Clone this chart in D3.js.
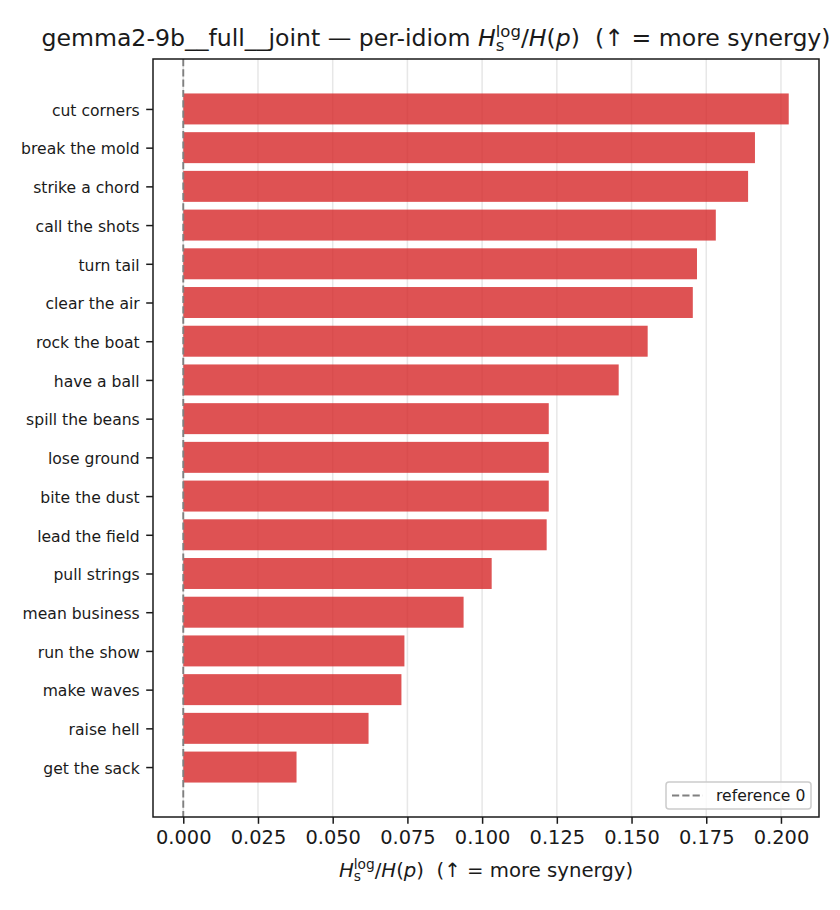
<!DOCTYPE html>
<html>
    <head>
        <title>Per-idiom synergy</title>
        <script src="https://d3js.org/d3.v7.min.js"></script>
        <style>
            body { margin: 0; background: white; }
            svg text { font-family: "DejaVu Sans", sans-serif; fill: #1a1a1a; white-space: pre; }
        </style>
    </head>
    <body>
        <div id="chart"></div>

        <script>
            // idioms, top to bottom, and their values
            let idioms = ["cut corners", "break the mold", "strike a chord", "call the shots",
                          "turn tail", "clear the air", "rock the boat", "have a ball",
                          "spill the beans", "lose ground", "bite the dust", "lead the field",
                          "pull strings", "mean business", "run the show", "make waves",
                          "raise hell", "get the sack"];
            let values = [0.2026, 0.1913, 0.1890, 0.1782,
                          0.1719, 0.1705, 0.1554, 0.1457,
                          0.1223, 0.1223, 0.1223, 0.1216,
                          0.1032, 0.0938, 0.0740, 0.0730,
                          0.0620, 0.0379];
            let xticks = [0, 0.025, 0.05, 0.075, 0.1, 0.125, 0.15, 0.175, 0.2];
            let referenceValue = 0;

            let canvas = { width: 840, height: 910 };
            let plot = { left: 153, right: 819, top: 59, bottom: 817 };

            let svg = d3.select("div#chart").append("svg")
                        .attr("width", canvas.width).attr("height", canvas.height);

            let n = idioms.length;
            let barh = 0.8;

            // matplotlib style 5% margins on both axes
            let xmax = d3.max(values);
            let xpad = 0.05 * xmax;
            let x = d3.scaleLinear()
                      .domain([0 - xpad, xmax + xpad])
                      .range([plot.left, plot.right]);

            let ylo = -barh / 2, yhi = n - 1 + barh / 2;
            let ypad = 0.05 * (yhi - ylo);
            let y = d3.scaleLinear()
                      .domain([ylo - ypad, yhi + ypad])
                      .range([plot.bottom, plot.top]);
            // first idiom sits on top
            let pos = i => n - 1 - i;

            // vertical grid
            svg.append("g").selectAll("line")
               .data(xticks).join("line")
               .attr("x1", d => x(d)).attr("x2", d => x(d))
               .attr("y1", plot.top).attr("y2", plot.bottom)
               .style("stroke", "#b0b0b0").style("stroke-opacity", 0.3).style("stroke-width", 1.5);

            // bars
            svg.append("g").selectAll("rect")
               .data(values).join("rect")
               .attr("x", x(0))
               .attr("y", (d, i) => y(pos(i) + barh / 2))
               .attr("width", d => x(d) - x(0))
               .attr("height", (d, i) => y(pos(i) - barh / 2) - y(pos(i) + barh / 2))
               .style("fill", "#d62728").style("fill-opacity", 0.8);

            // reference line
            svg.append("line")
               .attr("x1", x(referenceValue)).attr("x2", x(referenceValue))
               .attr("y1", plot.top).attr("y2", plot.bottom)
               .style("stroke", "gray").style("stroke-width", 1.9)
               .style("stroke-dasharray", "7.2,3.1");

            // axes
            let xAxis = d3.axisBottom(x).tickValues(xticks).tickFormat(d3.format(".3f"))
                          .tickSize(6.8).tickPadding(6);
            let gx = svg.append("g")
                        .attr("transform", "translate(0," + plot.bottom + ")")
                        .call(xAxis);
            gx.select(".domain").remove();
            gx.selectAll("line").style("stroke", "#1a1a1a").style("stroke-width", 1.5);
            gx.selectAll("text").style("font-size", "19.4px").style("fill", "#1a1a1a");

            let yAxis = d3.axisLeft(y).tickValues(d3.range(n))
                          .tickFormat(d => idioms[n - 1 - d])
                          .tickSize(6.8).tickPadding(6.5);
            let gy = svg.append("g")
                        .attr("transform", "translate(" + plot.left + ",0)")
                        .call(yAxis);
            gy.select(".domain").remove();
            gy.selectAll("line").style("stroke", "#1a1a1a").style("stroke-width", 1.5);
            gy.selectAll("text").style("font-size", "15.6px").style("fill", "#1a1a1a")
              .attr("dy", "0.4em");

            // frame
            svg.append("rect")
               .attr("x", plot.left).attr("y", plot.top)
               .attr("width", plot.right - plot.left).attr("height", plot.bottom - plot.top)
               .style("fill", "none").style("stroke", "#1a1a1a").style("stroke-width", 1.5);

            // H_s^log / H(p) label built from tspans
            function mathLabel(t, prefix, fs) {
                if (prefix) t.append("tspan").text(prefix);
                t.append("tspan").style("font-style", "italic").text("H");
                t.append("tspan").style("font-size", (0.7 * fs) + "px")
                 .attr("dy", 0.22 * fs).text("s");
                t.append("tspan").style("font-size", (0.7 * fs) + "px")
                 .attr("dx", -0.365 * fs).attr("dy", -0.62 * fs).text("log");
                t.append("tspan").attr("dy", 0.40 * fs).text("/");
                t.append("tspan").style("font-style", "italic").text("H");
                t.append("tspan").text("(");
                t.append("tspan").style("font-style", "italic").text("p");
                t.append("tspan").text(")  (\u2191 = more synergy)");
                return t;
            }

            let title = svg.append("text")
                           .attr("x", 436).attr("y", 46)
                           .attr("text-anchor", "middle")
                           .style("font-size", "23.6px");
            mathLabel(title, "gemma2-9b__full__joint \u2014 per-idiom ", 23.6);

            let xlabel = svg.append("text")
                            .attr("x", 486).attr("y", 877)
                            .attr("text-anchor", "middle")
                            .style("font-size", "19.7px");
            mathLabel(xlabel, "", 19.7);

            // legend
            let legend = svg.append("g").attr("transform", "translate(666,782)");
            legend.append("rect")
                  .attr("x", 0).attr("y", 0).attr("width", 145).attr("height", 27)
                  .attr("rx", 3)
                  .style("fill", "white").style("fill-opacity", 0.8)
                  .style("stroke", "#cccccc").style("stroke-width", 1.5);
            legend.append("line")
                  .attr("x1", 6).attr("x2", 37).attr("y1", 13.5).attr("y2", 13.5)
                  .style("stroke", "gray").style("stroke-width", 1.9)
                  .style("stroke-dasharray", "7.2,3.1");
            legend.append("text")
                  .attr("x", 50).attr("y", 19)
                  .style("font-size", "15.6px")
                  .text("reference 0");
        </script>
    </body>
</html>
